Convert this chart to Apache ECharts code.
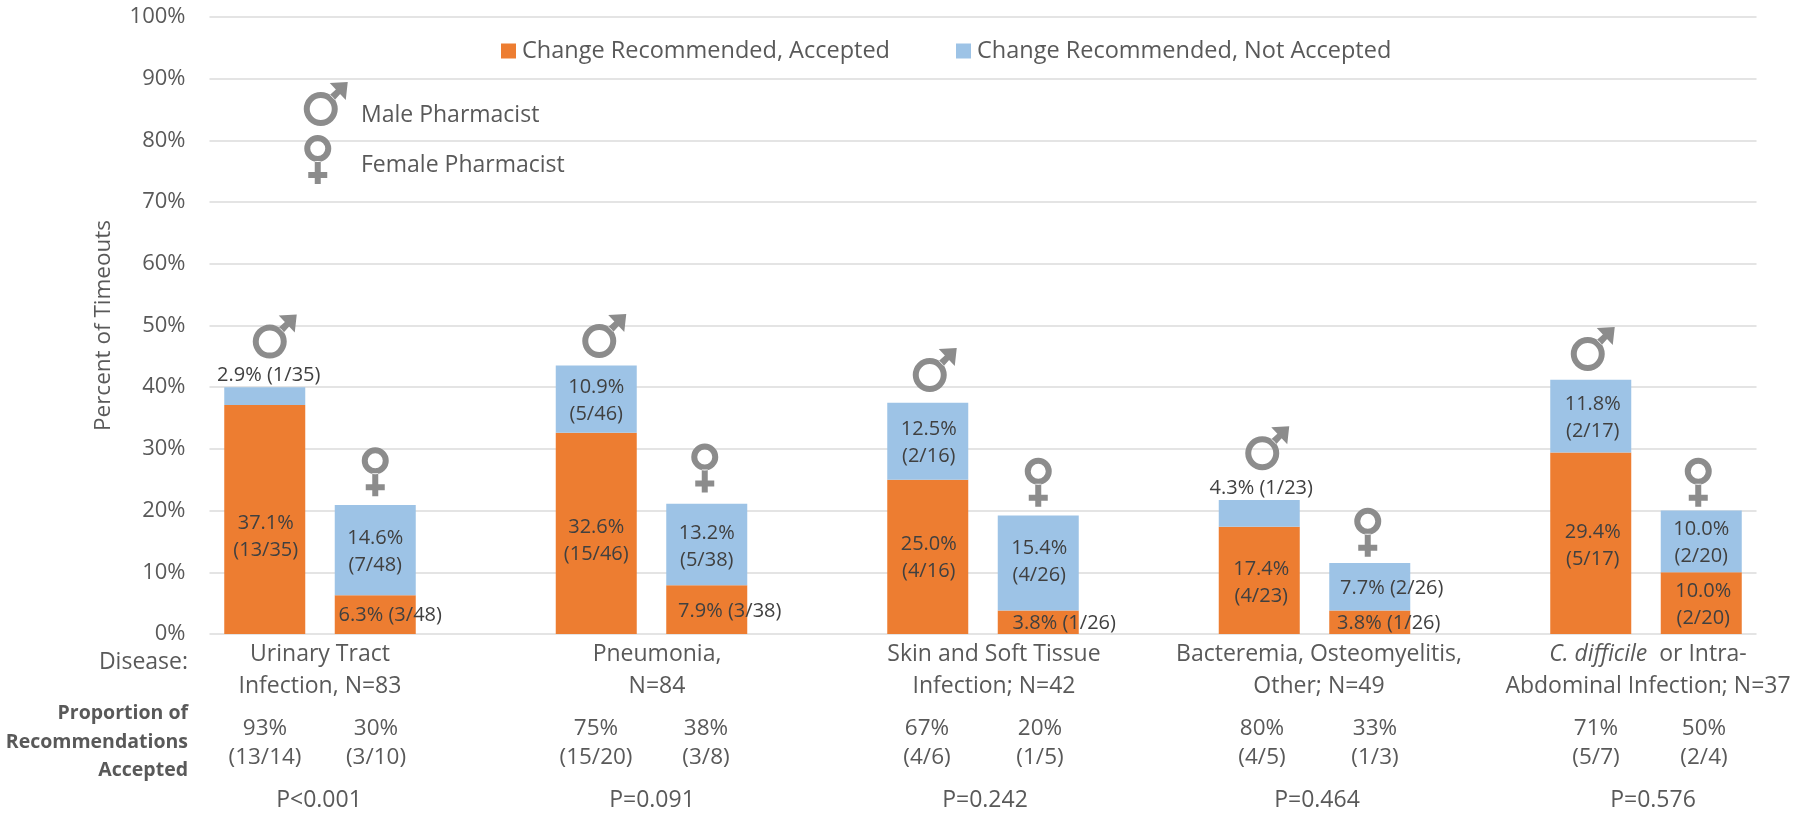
<!DOCTYPE html>
<html>
<head>
<meta charset="utf-8">
<style>
  html, body { margin: 0; padding: 0; background: #fff; }
  #chart { width: 1800px; height: 814px; }
</style>
<script src="https://cdn.jsdelivr.net/npm/echarts@6/dist/echarts.min.js"></script>
</head>
<body>
<div id="chart"></div>
<script>
// one slot per bar, the blank slots keep the groups apart
var slots = ['UTI M', 'UTI F', '', 'Pneu M', 'Pneu F', '', 'SSTI M', 'SSTI F', '', 'Bact M', 'Bact F', '', 'Cdiff M', 'Cdiff F'];
var accepted = [37.1, 6.3, null, 32.6, 7.9, null, 25.0, 3.8, null, 17.4, 3.8, null, 29.4, 10.0];
var notAccepted = [2.9, 14.6, null, 10.9, 13.2, null, 12.5, 15.4, null, 4.3, 7.7, null, 11.8, 10.0];
var acceptedLabels = ['37.1%\n(13/35)', '6.3% (3/48)', '', '32.6%\n(15/46)', '7.9% (3/38)', '', '25.0%\n(4/16)', '3.8% (1/26)', '', '17.4%\n(4/23)', '3.8% (1/26)', '', '29.4%\n(5/17)', '10.0%\n(2/20)'];
var notAcceptedLabels = ['2.9% (1/35)', '14.6%\n(7/48)', '', '10.9%\n(5/46)', '13.2%\n(5/38)', '', '12.5%\n(2/16)', '15.4%\n(4/26)', '', '4.3% (1/23)', '7.7% (2/26)', '', '11.8%\n(2/17)', '10.0%\n(2/20)'];
var seriesNames = ['Change Recommended, Accepted', 'Change Recommended, Not Accepted'];
var proportions = ['93%\n(13/14)', '30%\n(3/10)', '', '75%\n(15/20)', '38%\n(3/8)', '', '67%\n(4/6)', '20%\n(1/5)', '', '80%\n(4/5)', '33%\n(1/3)', '', '71%\n(5/7)', '50%\n(2/4)'];
var diseases = ['Urinary Tract\nInfection, N=83', 'Pneumonia,\nN=84', 'Skin and Soft Tissue\nInfection; N=42', 'Bacteremia, Osteomyelitis,\nOther; N=49', '{i|C. difficile}  or Intra-\nAbdominal Infection; N=37'];
var pValues = ['P<0.001', 'P=0.091', 'P=0.242', 'P=0.464', 'P=0.576'];
// height of the pharmacist signs above each bar, in percent
var signHeights = [48.2, 26.3, null, 48.3, 26.9, null, 42.8, 24.6, null, 30.1, 16.5, null, 46.2, 24.6];
// the two signs of the key at the top left
var keySignHeights = [85.9, 76.9];

// label nudges in px, same order as the slots
var acceptedOffsets = [[1, 17], [15, 1], null, [0, 7], [23, 2], null, [1, 1], [26, 1], null, [2, 2], [19, 1], null, [2, 2], [2, 2]];
var notAcceptedOffsets = [[4, -21], [0, 2], null, [0, 2], [0, 2], null, [1, 2], [1, -1], null, [2, -25], [22, 1], null, [2, 2], [0, 1]];
var signShifts = [10, 0, 0, 8, -2, 0, 7, 0, 0, 8, -2, 0, 2, -3];
var keySignShifts = [61, 53];
var proportionX = [265, 376, 0, 596, 706, 0, 927, 1040, 0, 1262, 1375, 0, 1596, 1704];
var diseaseX = [320, 657, 994, 1319, 1648];
var pValueX = [319, 652, 985, 1317, 1653];

var GREY = '#595959';
var SIGN = '#8c8c8c';
var FONT = '"Open Sans", sans-serif';

var malePath = 'M17 10A17 17 0 1 1 17 44A17 17 0 1 1 17 10ZM17 16A11 11 0 1 0 17 38A11 11 0 1 0 17 16Z' +
  'M26 13L31 18L40 8L36 4ZM26 1L42 18L44 0Z';
var femalePath = 'M13.5 0A13.5 13.5 0 1 1 13.5 27A13.5 13.5 0 1 1 13.5 0ZM13.5 6A7.5 7.5 0 1 0 13.5 21A7.5 7.5 0 1 0 13.5 6Z' +
  'M10.5 26L10.5 37L4 37L4 43L10.5 43L10.5 49L16.5 49L16.5 43L23 43L23 37L16.5 37L16.5 26Z';

function barData(values, labels, offsets) {
  return values.map(function (v, i) {
    return {
      value: v,
      label: { formatter: labels[i], offset: offsets[i] || [0, 0] }
    };
  });
}

function signData(wanted, keyIndex) {
  var out = [];
  signHeights.forEach(function (h, i) {
    if (h !== null && i % 3 === wanted) {
      out.push({ value: [i, h], symbolOffset: [signShifts[i], 0] });
    }
  });
  out.push({ value: [0, keySignHeights[keyIndex]], symbolOffset: [keySignShifts[keyIndex], 0] });
  return out;
}

function text(x, y, str, extra) {
  return {
    type: 'text',
    x: x,
    y: y,
    style: Object.assign({
      text: str,
      fill: GREY,
      font: '23px ' + FONT,
      align: 'center',
      verticalAlign: 'middle',
      lineHeight: 32
    }, extra || {})
  };
}

var overlay = [];
overlay.push(text(188, 662, 'Disease:', { align: 'right' }));
overlay.push(text(188, 742, 'Proportion of\nRecommendations\nAccepted', { align: 'right', font: 'bold 19.5px ' + FONT, lineHeight: 28.5 }));
proportions.forEach(function (p, i) {
  if (p) overlay.push(text(proportionX[i], 743, p, { lineHeight: 29, font: '22.5px ' + FONT }));
});
diseases.forEach(function (d, i) {
  overlay.push(text(diseaseX[i], 670, d, { rich: { i: { fontStyle: 'italic', fontSize: 23, fontFamily: FONT, fill: GREY, lineHeight: 32 } } }));
});
pValues.forEach(function (p, i) {
  overlay.push(text(pValueX[i], 800, p));
});
overlay.push(text(361, 115, 'Male Pharmacist', { align: 'left' }));
overlay.push(text(361, 165, 'Female Pharmacist', { align: 'left' }));

var chart = echarts.init(document.getElementById('chart'));
chart.setOption({
  animation: false,
  backgroundColor: '#fff',
  textStyle: { fontFamily: FONT },
  grid: { left: 209.5, right: 43.5, top: 17, bottom: 180, containLabel: false },
  legend: {
    left: 496,
    top: 34,
    data: seriesNames,
    icon: 'rect',
    itemWidth: 15,
    itemHeight: 15,
    itemGap: 66,
    textStyle: { color: GREY, fontSize: 23.5, fontFamily: FONT, padding: [0, 0, 0, 1] }
  },
  xAxis: {
    type: 'category',
    data: slots,
    axisLine: { show: false },
    axisTick: { show: false },
    axisLabel: { show: false }
  },
  yAxis: {
    type: 'value',
    min: 0,
    max: 100,
    interval: 10,
    name: 'Percent of Timeouts',
    nameLocation: 'middle',
    nameGap: 94,
    nameTextStyle: { color: GREY, fontSize: 22.5, fontFamily: FONT },
    axisLine: { show: false },
    axisTick: { show: false },
    axisLabel: { color: GREY, fontSize: 22, fontFamily: FONT, margin: 24, formatter: '{value}%' },
    splitLine: { lineStyle: { color: '#e4e4e4', width: 2 } }
  },
  series: [
    {
      name: seriesNames[0],
      type: 'bar',
      stack: 'timeouts',
      barWidth: 81,
      itemStyle: { color: '#ed7d31' },
      label: { show: true, position: 'inside', color: '#404040', fontSize: 20, fontFamily: FONT, lineHeight: 27 },
      data: barData(accepted, acceptedLabels, acceptedOffsets)
    },
    {
      name: seriesNames[1],
      type: 'bar',
      stack: 'timeouts',
      barWidth: 81,
      itemStyle: { color: '#9dc3e6' },
      label: { show: true, position: 'inside', color: '#404040', fontSize: 20, fontFamily: FONT, lineHeight: 27 },
      data: barData(notAccepted, notAcceptedLabels, notAcceptedOffsets)
    },
    {
      type: 'scatter',
      symbol: 'path://' + malePath,
      symbolSize: [44, 44],
      itemStyle: { color: SIGN, opacity: 1 },
      data: signData(0, 0)
    },
    {
      type: 'scatter',
      symbol: 'path://' + femalePath,
      symbolSize: [27, 49],
      itemStyle: { color: SIGN, opacity: 1 },
      data: signData(1, 1)
    }
  ],
  graphic: overlay
});
</script>
</body>
</html>
